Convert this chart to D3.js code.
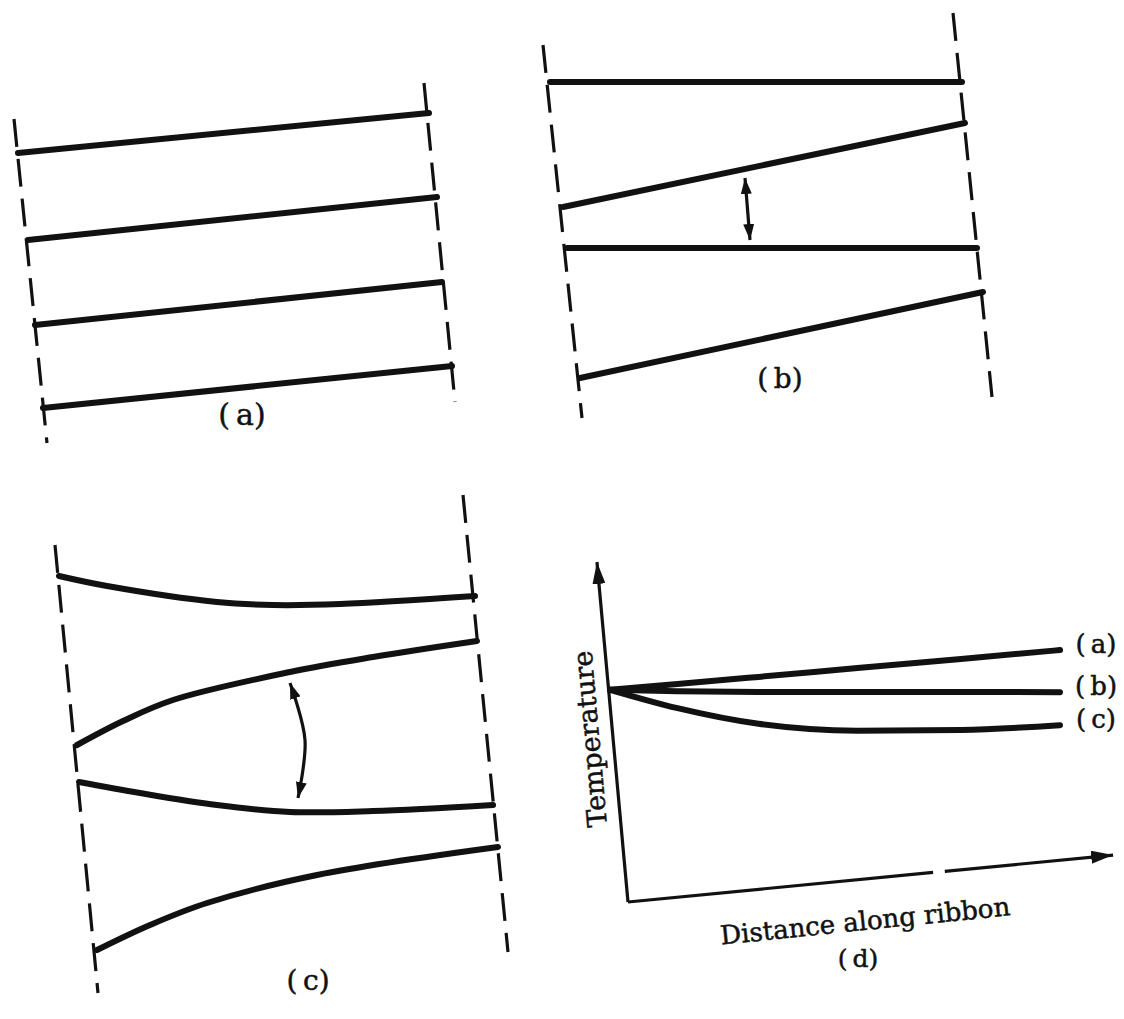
<!DOCTYPE html>
<html>
<head>
<meta charset="utf-8">
<script src="https://cdn.jsdelivr.net/npm/d3@7"></script>
<style>
  html, body { margin: 0; padding: 0; background: #fff; }
  svg { display: block; }
  text { font-family: "DejaVu Serif", "Liberation Serif", serif; fill: #111; stroke: #111; stroke-width: 0.5px; }
</style>
</head>
<body>
<svg id="chart" width="1124" height="1019"></svg>
<script>
// ---------- DATA (panel-local units) ----------
// Panel (a): uniform ribbon, parallel tilted isotherms
const aEdgeLeft  = [[0.8, 66.2], [7.4, 1.4]];
const aEdgeRight = [[82.8, 73.4], [89.0, 9.6]];
const aIsotherms = [
  [[1.6, 59.4], [83.8, 67.4]],
  [[3.6, 42.0], [85.4, 50.6]],
  [[5.0, 25.0], [86.4, 33.6]],
  [[6.6, 8.4],  [88.4, 16.8]]
];
const aLabelPos = [46.4, 5.0];

// Panel (b): alternating flat / tilted isotherms
const bEdgeLeft  = [[2.6, 75.0], [10.4, 0.4]];
const bEdgeRight = [[84.6, 81.4], [92.4, 4.6]];
const bIsotherms = [
  [[4.0, 67.6],  [86.4, 67.6]],
  [[6.6, 42.6],  [87.0, 59.4]],
  [[7.4, 34.4],  [89.4, 34.4]],
  [[10.0, 8.4],  [90.6, 25.6]]
];
const bArrow = [[43.0, 48.4], [44.0, 36.0]];
const bLabelPos = [50.0, 6.4];

// Panel (c): curved isotherms
const cEdgeLeft  = [[3.0, 91.0], [11.6, 1.4]];
const cEdgeRight = [[84.6, 101.0], [93.6, 9.6]];
const cIsotherms = [
  [[3.8, 84.8], [13.4, 82.8], [35.4, 79.6], [46.6, 79.0], [60.0, 79.2], [87.0, 80.8]],
  [[7.4, 51.0], [16.6, 55.8], [26.6, 60.0], [50.0, 65.6], [66.6, 68.6], [87.4, 71.8]],
  [[7.8, 43.6], [20.0, 41.4], [35.4, 39.0], [50.0, 37.6], [66.6, 37.8], [90.6, 39.0]],
  [[11.4, 10.0], [22.0, 15.0], [33.4, 19.4], [55.4, 25.0], [91.6, 30.6]]
];
const cArrow = [[50.0, 63.4], [53.0, 52.0], [51.6, 40.4]];
const cLabelPos = [53.6, 2.0];

// Panel (d): temperature vs distance along ribbon
const distance = [0, 0.15, 0.33, 0.55, 0.78, 1.0];
const tempA = [62.4, 64.1, 66.2, 68.8, 71.5, 74.1];
const tempB = [62.4, 62.0, 61.8, 61.8, 61.8, 61.7];
const tempC = [62.4, 57.0, 52.4, 50.4, 50.6, 52.0];
const seriesNames = ["(a)", "(b)", "(c)"];
const yAxisEnds = [[0.04, 0], [-0.029, 100]];
const xAxisSeg1 = [[0.04, 0], [0.718, 8.7]];
const xAxisSeg2 = [[0.744, 9.0], [1.118, 13.8]];
const yTitle = "Temperature";
const xTitle = "Distance along ribbon";
const yTitlePos = [-0.024, 48.2];
const xTitlePos = [0.569, -8.2];
const dLabelPos = [0.551, -19.1];

// ---------- DRAWING ----------
const svg = d3.select("#chart");
const defs = svg.append("defs");
function marker(id, len, wid) {
  defs.append("marker")
    .attr("id", id)
    .attr("viewBox", `0 0 ${len} ${wid}`)
    .attr("refX", len).attr("refY", wid / 2)
    .attr("markerWidth", len).attr("markerHeight", wid)
    .attr("markerUnits", "userSpaceOnUse")
    .attr("orient", "auto-start-reverse")
    .append("path")
    .attr("d", `M0,0 L${len},${wid / 2} L0,${wid} Z`)
    .attr("fill", "#111");
}
marker("smallHead", 16, 11);
marker("axisHead", 22, 13);

const INK = "#111";

function drawPanel(cfg) {
  const g = svg.append("g");
  const x = d3.scaleLinear().domain(cfg.xd).range(cfg.xr);
  const y = d3.scaleLinear().domain(cfg.yd).range(cfg.yr);
  const line = d3.line().x(d => x(d[0])).y(d => y(d[1]));
  const curve = d3.line().x(d => x(d[0])).y(d => y(d[1])).curve(d3.curveCatmullRom.alpha(0.5));

  [cfg.edgeL, cfg.edgeR].forEach(e => {
    g.append("path").attr("d", line(e))
      .attr("fill", "none").attr("stroke", INK)
      .attr("stroke-width", 3.2).attr("stroke-dasharray", "28,12");
  });
  cfg.iso.forEach(l => {
    g.append("path").attr("d", (l.length > 2 ? curve : line)(l))
      .attr("fill", "none").attr("stroke", INK)
      .attr("stroke-width", 6).attr("stroke-linecap", "round");
  });
  if (cfg.arrow) {
    g.append("path").attr("d", (cfg.arrow.length > 2 ? curve : line)(cfg.arrow))
      .attr("fill", "none").attr("stroke", INK).attr("stroke-width", 3.2)
      .attr("marker-start", "url(#smallHead)").attr("marker-end", "url(#smallHead)");
  }
  g.append("text")
    .attr("x", x(cfg.label[0])).attr("y", y(cfg.label[1]))
    .attr("text-anchor", "middle").attr("font-size", cfg.labelSize)
    .text(cfg.labelText);
}

drawPanel({ xd: [0, 90], xr: [10, 460], yd: [0, 74], yr: [450, 80],
  edgeL: aEdgeLeft, edgeR: aEdgeRight, iso: aIsotherms,
  label: aLabelPos, labelText: "(\u2009a)", labelSize: 30 });
drawPanel({ xd: [0, 100], xr: [530, 1030], yd: [0, 84], yr: [420, 0],
  edgeL: bEdgeLeft, edgeR: bEdgeRight, iso: bIsotherms, arrow: bArrow,
  label: bLabelPos, labelText: "(\u2009b)", labelSize: 28 });
drawPanel({ xd: [0, 100], xr: [40, 540], yd: [0, 104], yr: [1000, 480],
  edgeL: cEdgeLeft, edgeR: cEdgeRight, iso: cIsotherms, arrow: cArrow,
  label: cLabelPos, labelText: "(\u2009c)", labelSize: 28 });

// Panel (d)
const gd = svg.append("g");
const xd = d3.scaleLinear().domain([0, 1]).range([610, 1060]);
const yd = d3.scaleLinear().domain([0, 100]).range([902, 562]);
const ln = d3.line().x(d => xd(d[0])).y(d => yd(d[1]));
const lnCurve = d3.line().x(d => xd(d[0])).y(d => yd(d[1])).curve(d3.curveMonotoneX);

gd.append("path").attr("d", ln(yAxisEnds)).attr("fill", "none")
  .attr("stroke", INK).attr("stroke-width", 3.2).attr("marker-end", "url(#axisHead)");
gd.append("path").attr("d", ln([yAxisEnds[0], xAxisSeg1[1]])).attr("fill", "none")
  .attr("stroke", INK).attr("stroke-width", 3.2);
gd.append("path").attr("d", ln(xAxisSeg2)).attr("fill", "none")
  .attr("stroke", INK).attr("stroke-width", 3.2).attr("marker-end", "url(#axisHead)");

const series = [tempA, tempB, tempC];
series.forEach((vals, i) => {
  const pts = distance.map((d, j) => [d, vals[j]]);
  gd.append("path").attr("d", lnCurve(pts)).attr("fill", "none")
    .attr("stroke", INK).attr("stroke-width", 6).attr("stroke-linecap", "round");
  const last = pts[pts.length - 1];
  gd.append("text")
    .attr("x", xd(last[0]) + 36).attr("y", yd(last[1]) + 3)
    .attr("text-anchor", "middle").attr("font-size", 26)
    .text(seriesNames[i].replace("(", "(\u2009"));
});

gd.append("text")
  .attr("transform", `translate(${xd(yTitlePos[0])},${yd(yTitlePos[1])}) rotate(-95)`)
  .attr("text-anchor", "middle").attr("font-size", 27)
  .text(yTitle);
gd.append("text")
  .attr("transform", `translate(${xd(xTitlePos[0])},${yd(xTitlePos[1])}) rotate(-5.8)`)
  .attr("text-anchor", "middle").attr("font-size", 26)
  .text(xTitle);
gd.append("text")
  .attr("x", xd(dLabelPos[0])).attr("y", yd(dLabelPos[1]))
  .attr("text-anchor", "middle").attr("font-size", 25)
  .text("(\u2009d)");
</script>
</body>
</html>
